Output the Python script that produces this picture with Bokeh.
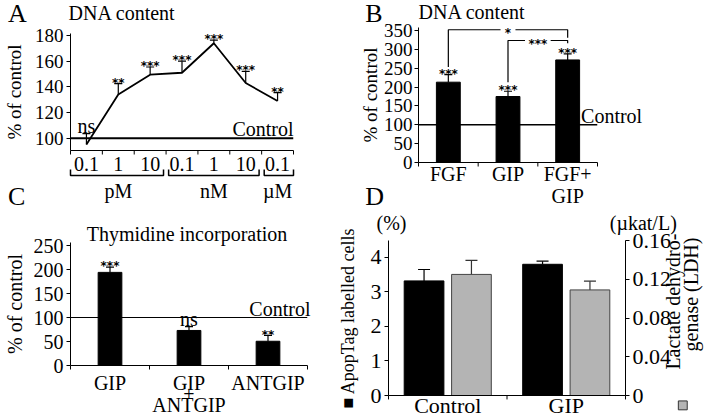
import math
from bokeh.plotting import figure
from bokeh.layouts import column, row
from bokeh.models import (ColumnDataSource, FactorRange, Range1d, LinearAxis,
                          CategoricalAxis, FixedTicker, Whisker, TeeHead, Span, NumeralTickFormatter)
from bokeh.transform import dodge
from bokeh.core.properties import value
from bokeh.embed import file_html
from bokeh.resources import INLINE

FONT = "Liberation Serif"
STAR_FONT = "DejaVu Sans"

# ---------------- data ----------------
# A: DNA content, dose response
a_conc = ["0.1", "1", "10", "0.1", "1", "10", "0.1"]
a_unit = ["pM", "pM", "pM", "nM", "nM", "nM", "µM"]
a_dna = [95, 134, 149.5, 151, 174, 143, 129]
a_err = [8.5, 8.5, 6, 9, 2.5, 9, 6.5]
a_sig = ["ns", "**", "***", "***", "***", "***", "**"]
a_yticks = [100, 120, 140, 160, 180]

# B: DNA content, FGF / GIP
b_cats = ["FGF", "GIP", "FGF+\nGIP"]
b_dna = [213, 175, 272]
b_err = [20, 14, 16]
b_sig = ["***", "***", "***"]
b_yticks = [0, 50, 100, 150, 200, 250, 300, 350]
b_pair_left = ["FGF", "GIP"]
b_pair_right = ["FGF+\nGIP", "FGF+\nGIP"]
b_pair_sig = ["*", "***"]
b_pair_level = [352, 323.5]
b_pair_left_end = [253, 213]
b_pair_right_end = [331, 316]

# C: Thymidine incorporation
c_cats = ["GIP", "GIP\n+\nANTGIP", "ANTGIP"]
c_thy = [194, 73, 50.5]
c_err = [11, 8, 12]
c_sig = ["***", "ns", "**"]
c_yticks = [0, 50, 100, 150, 200, 250]

# D: ApopTag / LDH
d_groups = ["Control", "GIP"]
d_apoptag = [3.31, 3.79]
d_apoptag_err = [0.33, 0.09]
d_ldh = [0.125, 0.109]
d_ldh_err = [0.0145, 0.009]
d_yticks = [0, 1, 2, 3, 4]
d_ldh_ticks = [0, 0.04, 0.08, 0.12, 0.16]


# ---------------- helpers ----------------
class Panel:
    def __init__(self, w, h, x_range, xs, y_range, frame, origin):
        x0, x1, y0, y1 = frame
        ox, oy = origin
        self.frame = frame
        self.xs = xs  # synthetic start/end of the factor range
        p = figure(width=w, height=h, x_range=x_range, y_range=y_range,
                   output_backend="svg", toolbar_location=None,
                   min_border_left=x0 - ox, min_border_right=w - (x1 - ox),
                   min_border_top=y0 - oy, min_border_bottom=h - (y1 - oy),
                   x_axis_location=None, outline_line_color=None, frame_align=False,
                   background_fill_color="white", border_fill_color="white")
        p.xgrid.visible = False
        p.ygrid.visible = False
        p.extra_y_ranges = {"px": Range1d(y1, y0)}
        self.p = p

    def px(self, x):
        x0, x1, _, _ = self.frame
        s, e = self.xs
        return s + (x - x0) / (x1 - x0) * (e - s)

    def ticks(self, positions, length=4):
        yb = self.frame[3]
        n = len(positions)
        self.p.segment(x0=positions, y0=[yb] * n, x1=positions, y1=[yb + length] * n,
                       y_range_name="px", line_color="black", line_width=1, level="overlay")


def style_y(ax, size, ticks, label=None, lab_size="19px", als=0, fmt=None, standoff=3):
    ax.ticker = FixedTicker(ticks=ticks)
    ax.major_label_text_font = FONT
    ax.major_label_text_font_size = size
    ax.major_label_text_color = "black"
    ax.major_label_standoff = standoff
    ax.major_tick_out = 4
    ax.major_tick_in = 0
    ax.minor_tick_line_color = None
    ax.axis_line_color = "black"
    ax.major_tick_line_color = "black"
    if fmt is not None:
        ax.formatter = fmt
    if label:
        ax.axis_label = label
        ax.axis_label_text_font = FONT
        ax.axis_label_text_font_size = lab_size
        ax.axis_label_text_font_style = "normal"
        ax.axis_label_text_color = "black"
        ax.axis_label_standoff = als


def add_cat_axis(p, size, standoff, line_height=1.0, group_size=None):
    ax = CategoricalAxis(axis_line_color="black", major_tick_line_color=None,
                         major_tick_out=0, major_tick_in=0,
                         major_label_text_font=FONT, major_label_text_font_size=size,
                         major_label_text_color="black", major_label_standoff=standoff,
                         major_label_text_line_height=line_height,
                         separator_line_color=None,
                         group_text_font=FONT, group_text_font_size=group_size or size,
                         group_text_color="black", group_text_font_style="normal")
    p.add_layout(ax, "below")
    return ax


def label(p, x, y, s, size, align="left", angle=0.0,
          yr="px", xo=0, yo=0, color="black", font=FONT, style="normal"):
    # text is centred vertically on (x, y) + offset (positive offset = down)
    p.text(x=[x], y=[y], text=[s], y_range_name=yr,
           text_font=value(font), text_font_size=value(size), text_align=align,
           text_baseline="middle", angle=angle, x_offset=xo, y_offset=yo,
           text_color=color, text_font_style=style, level="overlay")


def stars(p, x, y, s, yr="default", yo=-1):
    label(p, x, y, s, "12px", align="center", yr=yr, yo=yo, font=STAR_FONT, style="bold")


def sig_text(p, x, y, s, yr="default"):
    if s == "ns":
        label(p, x, y, s, "20px", align="center", yr=yr, yo=-7.5)
    else:
        stars(p, x, y, s, yr=yr)


def square(P, cx, cy, half, fill, line):
    xs = [P.px(cx - half), P.px(cx + half), P.px(cx + half), P.px(cx - half)]
    ys = [cy - half, cy - half, cy + half, cy + half]
    P.p.patch(x=xs, y=ys, y_range_name="px", fill_color=fill, line_color=line,
              line_width=1, level="overlay")


TOP_H = 210

# ---------------- panel A ----------------
a_factors = list(zip(a_unit, a_conc))
xA = FactorRange(*a_factors, factor_padding=0, group_padding=0, range_padding=0)
PA = Panel(356, TOP_H, xA, (0, len(a_factors)), Range1d(90.4, 181.6), (65, 293, 33, 150), (0, 0))
pA = PA.p
add_cat_axis(pA, "20px", 6)
PA.ticks(list(range(len(a_factors) + 1)))
style_y(pA.yaxis[0], "19px", a_yticks, "% of control", "19px", 7)

pA.add_layout(Span(location=100, dimension="width", line_color="black", line_width=2))
srcA = ColumnDataSource(dict(x=a_factors, y=a_dna, top=[v + e for v, e in zip(a_dna, a_err)]))
pA.line("x", "y", source=srcA, line_color="black", line_width=1.8)
pA.add_layout(Whisker(source=srcA, base="x", lower="y", upper="top", dimension="height",
                      line_color="black", line_width=1.2,
                      upper_head=TeeHead(size=8, line_color="black", line_width=1.2), lower_head=None))
for f, t, s in zip(a_factors, srcA.data["top"], a_sig):
    sig_text(pA, f, t, s)
label(pA, PA.px(293), 100, "Control", "20px", align="right", yr="default", yo=-9)
# concentration brackets under the axis
groups = []
for i, u in enumerate(a_unit):
    if not groups or groups[-1][0] != u:
        groups.append([u, i, i + 1])
    else:
        groups[-1][2] = i + 1
for gi, (u, s0, s1) in enumerate(groups):
    xl = s0 + (0.0 if gi == 0 else 0.08)
    xr_ = s1 - (0.0 if gi == len(groups) - 1 else 0.08)
    pA.line(x=[xl, xl, xr_, xr_], y=[169, 175, 175, 169], y_range_name="px",
            line_color="black", line_width=1.5, level="overlay")
label(pA, PA.px(1), 13, "A", "26px", align="left")
label(pA, PA.px(63), 12, "DNA content", "20px", align="left")
label(pA, PA.px(1), 196, "C", "26px", align="left")

# ---------------- panel B ----------------
xB = FactorRange(*b_cats, factor_padding=0, range_padding=0)
PB = Panel(364, TOP_H, xB, (0, len(b_cats)), Range1d(0, 358), (412, 597, 27, 162), (356, 0))
pB = PB.p
add_cat_axis(pB, "20px", 0, line_height=1.0)
PB.ticks(list(range(len(b_cats) + 1)))
style_y(pB.yaxis[0], "19px", b_yticks, "% of control", "19px", 0, standoff=2)

pB.add_layout(Span(location=100, dimension="width", line_color="black", line_width=1.5))
srcB = ColumnDataSource(dict(x=b_cats, top=b_dna, up=[v + e for v, e in zip(b_dna, b_err)]))
pB.vbar(x="x", top="top", width=0.4, source=srcB, fill_color="black", line_color="black")
pB.add_layout(Whisker(source=srcB, base="x", lower="top", upper="up", dimension="height",
                      line_color="black", line_width=1.2,
                      upper_head=TeeHead(size=8, line_color="black", line_width=1.2), lower_head=None))
for c, t, s in zip(b_cats, srcB.data["up"], b_sig):
    sig_text(pB, c, t, s)
for l, r, s, lv, le, re_ in zip(b_pair_left, b_pair_right, b_pair_sig, b_pair_level,
                                b_pair_left_end, b_pair_right_end):
    xl = b_cats.index(l) + 0.5
    xr_ = b_cats.index(r) + 0.5
    mid = (xl + xr_) / 2
    gap = 0.08 + 0.045 * len(s)
    pB.multi_line(xs=[[xl, xl, mid - gap], [mid + gap, xr_, xr_]],
                  ys=[[le, lv, lv], [lv, lv, re_]], line_color="black", line_width=1.2, level="overlay")
    stars(pB, mid, lv, s, yo=3)
label(pB, PB.px(580), 100, "Control", "20px", align="left", yr="default", yo=-9)
label(pB, PB.px(357), 13, "B", "26px", align="left")
label(pB, PB.px(412), 11, "DNA content", "20px", align="left")
label(pB, PB.px(357), 196, "D", "26px", align="left")

# ---------------- panel C ----------------
xC = FactorRange(*c_cats, factor_padding=0, range_padding=0)
PC = Panel(334, 420 - TOP_H, xC, (0, len(c_cats)), Range1d(0, 256.25), (67, 307, 242, 365), (0, TOP_H))
pC = PC.p
add_cat_axis(pC, "20px", 6, line_height=0.5)
PC.ticks(list(range(len(c_cats) + 1)))
style_y(pC.yaxis[0], "20px", c_yticks, "% of control", "20px", 5)

pC.add_layout(Span(location=100, dimension="width", line_color="black", line_width=1.2))
srcC = ColumnDataSource(dict(x=c_cats, top=c_thy, up=[v + e for v, e in zip(c_thy, c_err)]))
pC.vbar(x="x", top="top", width=0.3, source=srcC, fill_color="black", line_color="black")
pC.add_layout(Whisker(source=srcC, base="x", lower="top", upper="up", dimension="height",
                      line_color="black", line_width=1.2,
                      upper_head=TeeHead(size=8, line_color="black", line_width=1.2), lower_head=None))
for c, t, s in zip(c_cats, srcC.data["up"], c_sig):
    sig_text(pC, c, t, s)
label(pC, PC.px(310), 100, "Control", "20px", align="right", yr="default", yo=-9)
label(pC, PC.px(185), 233, "Thymidine incorporation", "20px", align="center")

# ---------------- panel D ----------------
xD = FactorRange(*d_groups, factor_padding=0, range_padding=0)
PD = Panel(386, 420 - TOP_H, xD, (0, len(d_groups)), Range1d(0, 4.477), (385, 625, 240, 397), (334, TOP_H))
pD = PD.p
pD.extra_y_ranges = {**pD.extra_y_ranges, "ldh": Range1d(0, 0.16)}
add_cat_axis(pD, "22px", -3)
PD.ticks(list(range(len(d_groups) + 1)))
style_y(pD.yaxis[0], "22px", d_yticks, "■ ApopTag labelled cells", "18px", 10)
rax = LinearAxis(y_range_name="ldh")
style_y(rax, "22px", d_ldh_ticks, fmt=NumeralTickFormatter(format="0.[00]"))
pD.add_layout(rax, "right")

srcD1 = ColumnDataSource(dict(x=d_groups, top=d_apoptag,
                              up=[v + e for v, e in zip(d_apoptag, d_apoptag_err)]))
srcD2 = ColumnDataSource(dict(x=d_groups, top=d_ldh,
                              up=[v + e for v, e in zip(d_ldh, d_ldh_err)]))
xb = dodge("x", -0.2, range=xD)
xg = dodge("x", 0.2, range=xD)
pD.vbar(x=xb, top="top", width=0.335, source=srcD1, fill_color="black", line_color="black")
pD.vbar(x=xg, top="top", width=0.335, source=srcD2, y_range_name="ldh",
        fill_color="#b4b4b4", line_color="#444444", line_width=1)
pD.add_layout(Whisker(source=srcD1, base=xb, lower="top", upper="up", dimension="height",
                      line_color="black", line_width=1.2,
                      upper_head=TeeHead(size=12, line_color="black", line_width=1.2), lower_head=None))
pD.add_layout(Whisker(source=srcD2, base=xg, lower="top", upper="up", dimension="height",
                      y_range_name="ldh", line_color="#333333", line_width=1.2,
                      upper_head=TeeHead(size=12, line_color="#333333", line_width=1.2), lower_head=None))
label(pD, PD.px(388), 222, "(%)", "20px", align="center")
label(pD, PD.px(643), 222, "(µkat/L)", "20px", align="center")
label(pD, PD.px(673), 233, "Lactate dehydro-", "20px", align="right", angle=math.pi / 2)
label(pD, PD.px(691), 237, "genase (LDH)", "20px", align="right", angle=math.pi / 2)
square(PD, 683, 407, 4.5, "#b4b4b4", "#333333")

layout = column(row(pA, pB), row(pC, pD))
open("out.html", "w").write(file_html(layout, INLINE))
